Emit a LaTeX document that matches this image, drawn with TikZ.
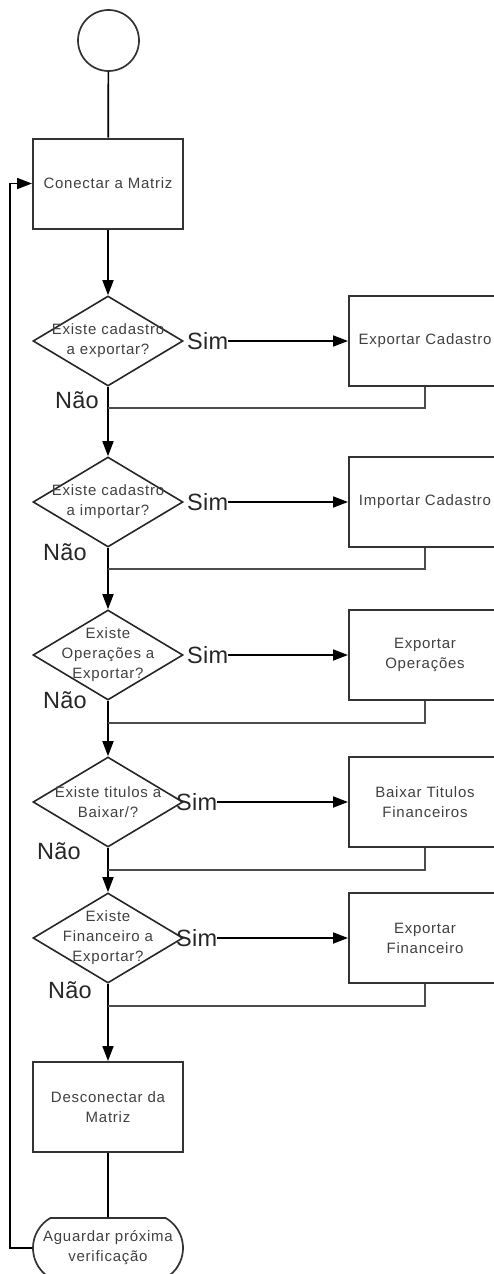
\documentclass[tikz,border=0pt]{standalone}
\usepackage{fontspec}
\setmainfont{Liberation Sans}[LetterSpace=5]
\newfontfamily\ynfont{Liberation Sans}[LetterSpace=1]
\usetikzlibrary{shapes.geometric,shapes.misc,arrows.meta}
\begin{document}
\begin{tikzpicture}[x=1pt,y=-1pt,
  line/.style={line width=1.7pt, draw=black},
  arr/.style={line width=1.7pt, draw=black, -{Triangle[length=15pt,width=11pt]}},
  merge/.style={line width=2.2pt, draw=black!70},
  txt/.style={font=\fontsize{15}{20}\selectfont, text=black!75, align=center},
  box/.style={txt, rectangle, draw=black!80, line width=2pt, minimum width=150pt, minimum height=90pt, inner sep=0pt},
  rbox/.style={box, minimum width=152pt},
  dec/.style={diamond, draw=black!85, line width=1.6pt, minimum width=150pt, minimum height=90pt, inner sep=0pt},
  dtext/.style={txt, inner sep=0pt},
  yn/.style={font=\ynfont\fontsize{23.5}{25}\selectfont, text=black!85, inner sep=0pt},
  startc/.style={circle, draw=black!80, line width=1.7pt, minimum size=61pt, inner sep=0pt},
  term/.style={txt, rounded rectangle, rounded rectangle arc length=120, draw=black!80, line width=1.7pt, minimum width=150pt, minimum height=60pt, inner sep=0pt}
]
\useasboundingbox (0,0) rectangle (494,1274);

% start and first box
\node[startc] (s) at (108.5,40.5) {};
\node[box] (c) at (108,183.5) {Conectar a Matriz};

% decision 1
\node[dec] (d1) at (108,341) {};
\node[dtext] (t1) at (d1) {Existe cadastro\\a exportar?};
\node[rbox] (b1) at (425,341) {Exportar Cadastro};
\node[yn, anchor=west] (s1) at (187,341) {Sim};
\node[yn] (n1) at (77,400) {Não};
\coordinate (m1) at (108,408);

% decision 2
\node[dec] (d2) at (108,502) {};
\node[dtext] (t2) at (d2) {Existe cadastro\\a importar?};
\node[rbox] (b2) at (425,502) {Importar Cadastro};
\node[yn, anchor=west] (s2) at (187,502) {Sim};
\node[yn] (n2) at (65,552) {Não};
\coordinate (m2) at (108,569);

% decision 3
\node[dec] (d3) at (108,655) {};
\node[dtext] (t3) at (d3) {Existe\\Operações a\\Exportar?};
\node[rbox] (b3) at (425,655) {Exportar\\Operações};
\node[yn, anchor=west] (s3) at (187,655) {Sim};
\node[yn] (n3) at (65,700) {Não};
\coordinate (m3) at (108,723);

% decision 4
\node[dec] (d4) at (108,802) {};
\node[dtext] (t4) at (d4) {Existe titulos a\\Baixar/?};
\node[rbox] (b4) at (425,802) {Baixar Titulos\\Financeiros};
\node[yn, anchor=west] (s4) at (176,802) {Sim};
\node[yn] (n4) at (59,851) {Não};
\coordinate (m4) at (108,870);

% decision 5
\node[dec] (d5) at (108,938) {};
\node[dtext] (t5) at (d5) {Existe\\Financeiro a\\Exportar?};
\node[rbox] (b5) at (425,938) {Exportar\\Financeiro};
\node[yn, anchor=west] (s5) at (176,938) {Sim};
\node[yn] (n5) at (70,990) {Não};
\coordinate (m5) at (108,1006);

% end part
\node[box] (dc) at (108,1107) {Desconectar da\\Matriz};
\node[term] (w) at (108,1248) {Aguardar próxima\\verificação};
\coordinate (lp) at (10,1248);

% connectors
\draw[line] (s) -- (c);
\draw[arr] (c) -- (d1);
\draw[arr] (d1) -- (d2);
\draw[arr] (d2) -- (d3);
\draw[arr] (d3) -- (d4);
\draw[arr] (d4) -- (d5);
\draw[arr] (d5) -- (dc);
\draw[line] (dc) -- (w);
\draw[arr] (w.west) -- (lp) |- (c.west);

\draw[arr] (s1) -- (b1);
\draw[arr] (s2) -- (b2);
\draw[arr] (s3) -- (b3);
\draw[arr] (s4) -- (b4);
\draw[arr] (s5) -- (b5);

\draw[merge] (b1.south) |- (m1);
\draw[merge] (b2.south) |- (m2);
\draw[merge] (b3.south) |- (m3);
\draw[merge] (b4.south) |- (m4);
\draw[merge] (b5.south) |- (m5);
\end{tikzpicture}
\end{document}
